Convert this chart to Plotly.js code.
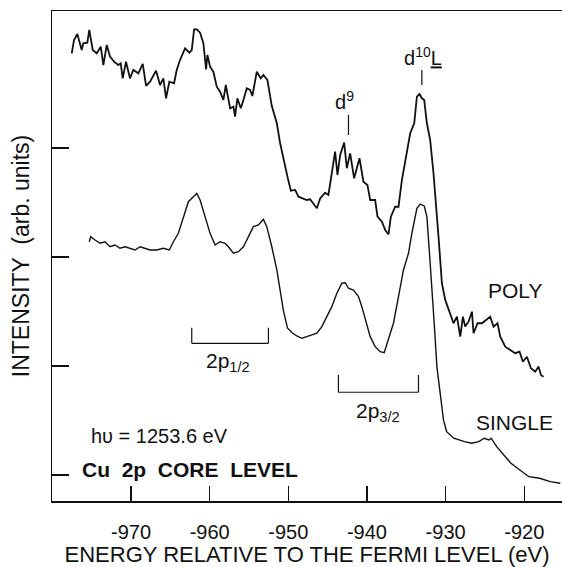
<!DOCTYPE html>
<html>
<head>
<meta charset="utf-8">
<script src="https://cdn.plot.ly/plotly-3.0.1.min.js"></script>
<style>html,body{margin:0;padding:0;background:#fff;}#chart{width:562px;height:567px;}</style>
</head>
<body>
<div id="chart"></div>
<script>
// Binding energy relative to Fermi level (eV)
var polyEnergy = [-977.54,-977.25,-976.83,-976.27,-976.07,-975.56,-975.31,-974.87,-974.36,-973.85,-973.52,-973.09,-972.67,-972.16,-971.62,-971.31,-971.06,-970.64,-970.13,-969.71,-969.07,-968.51,-968.09,-967.58,-966.82,-966.31,-965.89,-965.55,-965.13,-964.53,-964.19,-963.77,-963.13,-962.58,-962.28,-961.98,-961.64,-961.22,-960.80,-960.46,-960.29,-959.95,-959.53,-959.10,-958.68,-958.26,-957.95,-957.40,-956.98,-956.77,-956.48,-956.04,-955.71,-955.28,-954.86,-954.57,-954.01,-953.50,-953.17,-952.66,-952.10,-951.46,-951.04,-950.62,-950.11,-949.68,-949.13,-948.71,-948.28,-947.65,-947.23,-946.81,-946.37,-945.95,-945.32,-944.90,-944.47,-944.05,-943.75,-943.41,-942.90,-942.56,-942.14,-941.63,-940.95,-940.45,-939.94,-939.59,-938.96,-938.66,-938.10,-937.68,-937.26,-936.96,-936.41,-935.99,-935.56,-935.01,-934.50,-933.99,-933.65,-933.32,-933.02,-932.72,-932.38,-931.96,-931.54,-930.90,-930.47,-930.05,-929.63,-928.99,-928.56,-928.14,-927.80,-927.51,-927.09,-926.65,-926.45,-925.94,-925.38,-924.83,-924.33,-923.91,-923.40,-923.05,-922.42,-921.78,-921.15,-920.60,-920.17,-919.66,-919.15,-918.60,-918.18,-917.88,-917.55];
var polyIntensity = [3.869,3.991,4.046,3.899,3.961,3.966,4.083,3.899,3.869,3.929,3.761,3.945,3.838,3.792,3.761,3.777,3.639,3.792,3.639,3.716,3.685,3.771,3.569,3.608,3.709,3.578,3.639,3.456,3.608,3.594,3.716,3.807,3.915,3.874,3.899,4.089,4.089,4.058,3.961,3.722,3.853,3.746,3.700,3.562,3.517,3.440,3.578,3.364,3.379,3.287,3.456,3.364,3.440,3.548,3.532,3.477,3.700,3.639,3.670,3.624,3.385,3.227,3.043,2.890,2.737,2.608,2.615,2.553,2.538,2.523,2.529,2.493,2.447,2.538,2.590,2.569,2.768,2.966,2.752,2.936,3.049,2.814,2.951,2.722,2.906,2.691,2.661,2.523,2.523,2.370,2.324,2.248,2.208,2.370,2.461,2.461,2.706,2.920,3.135,3.227,3.471,3.495,3.456,3.440,3.227,3.073,2.768,2.183,1.759,1.606,1.514,1.392,1.452,1.269,1.452,1.361,1.406,1.498,1.300,1.392,1.392,1.422,1.452,1.361,1.392,1.269,1.177,1.147,1.117,1.131,1.039,1.085,0.979,0.948,0.994,0.917,0.902];

var singleEnergy = [-975.31,-975.13,-974.58,-973.94,-973.31,-972.67,-972.04,-971.40,-970.76,-970.13,-969.49,-968.85,-968.22,-967.58,-966.73,-965.89,-965.13,-964.62,-963.98,-963.35,-962.71,-962.07,-961.64,-961.22,-960.59,-959.95,-959.31,-958.68,-958.04,-957.62,-956.98,-956.35,-955.71,-955.08,-954.44,-953.80,-953.17,-952.74,-952.10,-951.46,-951.04,-950.62,-950.11,-949.55,-948.92,-948.28,-947.65,-947.01,-946.37,-945.74,-945.10,-944.47,-943.83,-943.19,-942.77,-942.35,-941.72,-941.08,-940.65,-940.10,-939.59,-938.96,-938.32,-937.81,-937.27,-936.63,-935.99,-935.36,-934.72,-934.29,-933.65,-933.23,-932.72,-932.38,-932.05,-931.74,-931.45,-931.11,-930.69,-930.27,-929.87,-928.96,-927.60,-926.69,-925.78,-925.10,-924.50,-924.20,-923.51,-922.60,-921.69,-920.56,-919.41,-918.05,-916.69,-915.42];
var singleIntensity = [2.140,2.186,2.156,2.126,2.140,2.094,2.110,2.080,2.094,2.080,2.064,2.094,2.080,2.064,2.064,2.080,2.064,2.140,2.217,2.355,2.507,2.553,2.584,2.523,2.370,2.217,2.110,2.140,2.126,2.094,2.034,2.049,2.094,2.186,2.278,2.294,2.346,2.278,2.094,1.881,1.682,1.505,1.349,1.307,1.275,1.254,1.269,1.284,1.300,1.361,1.452,1.544,1.667,1.759,1.764,1.713,1.697,1.636,1.544,1.392,1.269,1.177,1.131,1.122,1.239,1.392,1.636,1.881,2.034,2.217,2.447,2.486,2.468,2.370,2.034,1.728,1.392,0.994,0.718,0.505,0.397,0.337,0.306,0.291,0.306,0.337,0.321,0.337,0.260,0.183,0.107,0.046,-0.016,-0.030,-0.061,-0.076];

var xTickValues = [-970,-960,-950,-940,-930,-920];
var xTickLabels = ['-970','-960','-950','-940','-930','-920'];
var yTickValues = [0,1,2,3];

var FONT = 'Liberation Sans, Arial, Helvetica, sans-serif';
var INK = '#111';

var traces = [
  {x: polyEnergy, y: polyIntensity, type: 'scatter', mode: 'lines', name: 'POLY',
   line: {color: INK, width: 1.8}, hoverinfo: 'skip'},
  {x: singleEnergy, y: singleIntensity, type: 'scatter', mode: 'lines', name: 'SINGLE',
   line: {color: INK, width: 1.4}, hoverinfo: 'skip'}
];

function seg(x0, y0, x1, y1, w) {
  return {type: 'line', xref: 'x', yref: 'y', x0: x0, y0: y0, x1: x1, y1: y1,
          line: {color: INK, width: w || 1.2}};
}
function txt(x, y, t, size, anchor, bold) {
  return {x: x, y: y, xref: 'x', yref: 'y', text: bold ? '<b>' + t + '</b>' : t,
          showarrow: false, xanchor: anchor || 'center', yanchor: 'middle',
          font: {family: FONT, size: size, color: INK}};
}

var layout = {
  width: 562, height: 567,
  margin: {l: 52, r: 0, t: 11, b: 66, pad: 0},
  paper_bgcolor: '#fff', plot_bgcolor: '#fff',
  showlegend: false,
  font: {family: FONT, color: INK},
  xaxis: {
    range: [-980.05, -915.2], tickvals: xTickValues, ticktext: xTickLabels,
    ticks: 'inside', ticklen: 15, tickwidth: 1.2, tickcolor: INK,
    showline: true, linecolor: INK, linewidth: 1.5, mirror: true,
    showgrid: false, zeroline: false,
    tickfont: {family: FONT, size: 20, color: INK},
    ticklabelstandoff: 12,
    title: {text: 'ENERGY RELATIVE TO THE FERMI LEVEL (eV)', font: {family: FONT, size: 22, color: INK}, standoff: 4}
  },
  yaxis: {
    range: [-0.239, 4.257], tickvals: yTickValues,
    ticks: 'inside', ticklen: 17, tickwidth: 1.2, tickcolor: INK,
    showticklabels: false,
    showline: true, linecolor: INK, linewidth: 1.5, mirror: false,
    showgrid: false, zeroline: false,
    title: {text: 'INTENSITY  (arb. units)', font: {family: FONT, size: 23, color: INK}, standoff: 14}
  },
  shapes: [
    seg(-933.02, 3.716, -933.02, 3.578),
    seg(-942.35, 3.303, -942.35, 3.119),
    seg(-962.28, 1.208, -952.53, 1.208),
    seg(-962.28, 1.208, -962.28, 1.351),
    seg(-952.53, 1.208, -952.53, 1.351),
    seg(-943.63, 0.759, -933.45, 0.759),
    seg(-943.63, 0.759, -943.63, 0.917),
    seg(-933.45, 0.759, -933.45, 0.917)
  ],
  annotations: [
    txt(-932.85, 3.835, 'd<sup>10</sup><u>L</u>', 20),
    txt(-942.84, 3.440, 'd<sup>9</sup>', 20),
    txt(-921.15, 1.693, 'POLY', 21),
    txt(-921.27, 0.482, 'SINGLE', 21),
    txt(-957.66, 1.037, '2p<sub>1/2</sub>', 21),
    txt(-938.58, 0.578, '2p<sub>3/2</sub>', 21),
    txt(-975.34, 0.362, 'h\u03c5 = 1253.6 eV', 20, 'left'),
    txt(-976.49, 0.050, 'Cu  2p  CORE  LEVEL', 21, 'left', true)
  ]
};

Plotly.newPlot('chart', traces, layout, {staticPlot: true, displayModeBar: false});
</script>
</body>
</html>
